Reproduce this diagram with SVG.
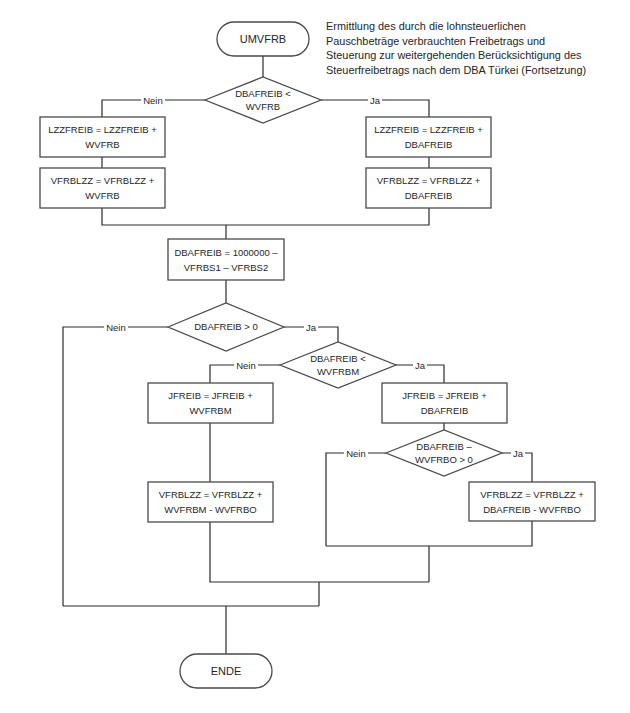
<svg xmlns="http://www.w3.org/2000/svg" width="630" height="713" viewBox="0 0 630 713">
<style>
  .shape { fill: #ffffff; stroke: #4a4a4a; stroke-width: 1.3; }
  .conn { fill: none; stroke: #2a2a2a; stroke-width: 1.2; }
  text { font-family: "Liberation Sans", Arial, sans-serif; fill: #262626; }
  .t { font-size: 9.5px; text-anchor: middle; }
  .term { font-size: 11px; text-anchor: middle; }
  .lbl { font-size: 9.5px; text-anchor: middle; }
  .title { font-size: 10.9px; }
  .bg { fill: #ffffff; stroke: none; }
</style>
<rect x="0" y="0" width="630" height="713" fill="#ffffff"/>

<g id="connectors">
  <path class="conn" d="M263,56 V77"/>
  <path class="conn" d="M205,100 H102 V117"/>
  <path class="conn" d="M321,100 H429 V117"/>
  <path class="conn" d="M102,157 V168"/>
  <path class="conn" d="M429,157 V168"/>
  <path class="conn" d="M102,208 V225 H429 V208"/>
  <path class="conn" d="M226,225 V239"/>
  <path class="conn" d="M226,280 V303"/>
  <path class="conn" d="M168,327 H63 V606"/>
  <path class="conn" d="M284,327 H338 V342"/>
  <path class="conn" d="M280,365 H210 V383"/>
  <path class="conn" d="M396,365 H444 V383"/>
  <path class="conn" d="M444,423 V430"/>
  <path class="conn" d="M386,453 H326 V546"/>
  <path class="conn" d="M502,453 H532 V482"/>
  <path class="conn" d="M532,521 V546 H326"/>
  <path class="conn" d="M429,546 V582"/>
  <path class="conn" d="M210,423 V482"/>
  <path class="conn" d="M210,522 V582 H429"/>
  <path class="conn" d="M319,582 V606"/>
  <path class="conn" d="M63,606 H319"/>
  <path class="conn" d="M226,606 V654"/>
  <rect class="bg" x="141" y="94" width="24" height="12"/>
  <text class="lbl" x="153" y="103.5">Nein</text>
  <rect class="bg" x="368" y="94" width="14" height="12"/>
  <text class="lbl" x="375" y="103.5">Ja</text>
  <rect class="bg" x="104" y="321" width="24" height="12"/>
  <text class="lbl" x="116" y="330.5">Nein</text>
  <rect class="bg" x="304" y="321" width="14" height="12"/>
  <text class="lbl" x="311" y="330.5">Ja</text>
  <rect class="bg" x="234" y="359" width="24" height="12"/>
  <text class="lbl" x="246" y="368.5">Nein</text>
  <rect class="bg" x="413" y="359" width="14" height="12"/>
  <text class="lbl" x="420" y="368.5">Ja</text>
  <rect class="bg" x="344" y="447" width="24" height="12"/>
  <text class="lbl" x="356" y="456.5">Nein</text>
  <rect class="bg" x="511" y="447" width="14" height="12"/>
  <text class="lbl" x="518" y="456.5">Ja</text>
</g>

<g id="title">
  <text class="title" x="326" y="30">Ermittlung des durch die lohnsteuerlichen</text>
  <text class="title" x="326" y="44.5">Pauschbeträge verbrauchten Freibetrags und</text>
  <text class="title" x="326" y="59">Steuerung zur weitergehenden Berücksichtigung des</text>
  <text class="title" x="326" y="73.5">Steuerfreibetrags nach dem DBA Türkei (Fortsetzung)</text>
</g>

<g id="start">
  <rect class="shape" x="217" y="22" width="92" height="34" rx="17"/>
  <text class="term" x="263" y="42.8">UMVFRB</text>
</g>

<g id="dec1">
  <polygon class="shape" points="205,100 263,77 321,100 263,123"/>
  <text class="t" x="263" y="96.8">DBAFREIB &lt;</text>
  <text class="t" x="263" y="109.8">WVFRB</text>
</g>

<g id="boxL1">
  <rect class="shape" x="40" y="117" width="125" height="40"/>
  <text class="t" x="102.5" y="133.4">LZZFREIB = LZZFREIB +</text>
  <text class="t" x="102.5" y="148.4">WVFRB</text>
</g>
<g id="boxL2">
  <rect class="shape" x="40" y="168" width="125" height="40"/>
  <text class="t" x="102.5" y="184.4">VFRBLZZ = VFRBLZZ +</text>
  <text class="t" x="102.5" y="199.4">WVFRB</text>
</g>
<g id="boxR1">
  <rect class="shape" x="366" y="117" width="125" height="40"/>
  <text class="t" x="428.5" y="133.4">LZZFREIB = LZZFREIB +</text>
  <text class="t" x="428.5" y="148.4">DBAFREIB</text>
</g>
<g id="boxR2">
  <rect class="shape" x="366" y="168" width="125" height="40"/>
  <text class="t" x="428.5" y="184.4">VFRBLZZ = VFRBLZZ +</text>
  <text class="t" x="428.5" y="199.4">DBAFREIB</text>
</g>

<g id="box3">
  <rect class="shape" x="168" y="239" width="116" height="41"/>
  <text class="t" x="226" y="255.9">DBAFREIB = 1000000 –</text>
  <text class="t" x="226" y="270.9">VFRBS1 – VFRBS2</text>
</g>

<g id="dec2">
  <polygon class="shape" points="168,327 226,303 284,327 226,351"/>
  <text class="t" x="226" y="330.4">DBAFREIB &gt; 0</text>
</g>

<g id="dec3">
  <polygon class="shape" points="280,365 338,342 396,365 338,388"/>
  <text class="t" x="338" y="361.8">DBAFREIB &lt;</text>
  <text class="t" x="338" y="374.8">WVFRBM</text>
</g>

<g id="boxJL">
  <rect class="shape" x="148" y="383" width="125" height="40"/>
  <text class="t" x="210.5" y="399.4">JFREIB = JFREIB +</text>
  <text class="t" x="210.5" y="414.4">WVFRBM</text>
</g>
<g id="boxJR">
  <rect class="shape" x="382" y="383" width="125" height="40"/>
  <text class="t" x="444.5" y="399.4">JFREIB = JFREIB +</text>
  <text class="t" x="444.5" y="414.4">DBAFREIB</text>
</g>

<g id="dec4">
  <polygon class="shape" points="386,453 444,430 502,453 444,476"/>
  <text class="t" x="444" y="449.8">DBAFREIB –</text>
  <text class="t" x="444" y="462.8">WVFRBO &gt; 0</text>
</g>

<g id="boxVL">
  <rect class="shape" x="148" y="482" width="125" height="40"/>
  <text class="t" x="210.5" y="498.4">VFRBLZZ = VFRBLZZ +</text>
  <text class="t" x="210.5" y="513.4">WVFRBM - WVFRBO</text>
</g>
<g id="boxVR">
  <rect class="shape" x="469" y="482" width="126" height="39"/>
  <text class="t" x="532" y="497.9">VFRBLZZ = VFRBLZZ +</text>
  <text class="t" x="532" y="512.9">DBAFREIB - WVFRBO</text>
</g>

<g id="end">
  <rect class="shape" x="180" y="654" width="92" height="34" rx="17"/>
  <text class="term" x="226" y="674.8">ENDE</text>
</g>
</svg>
